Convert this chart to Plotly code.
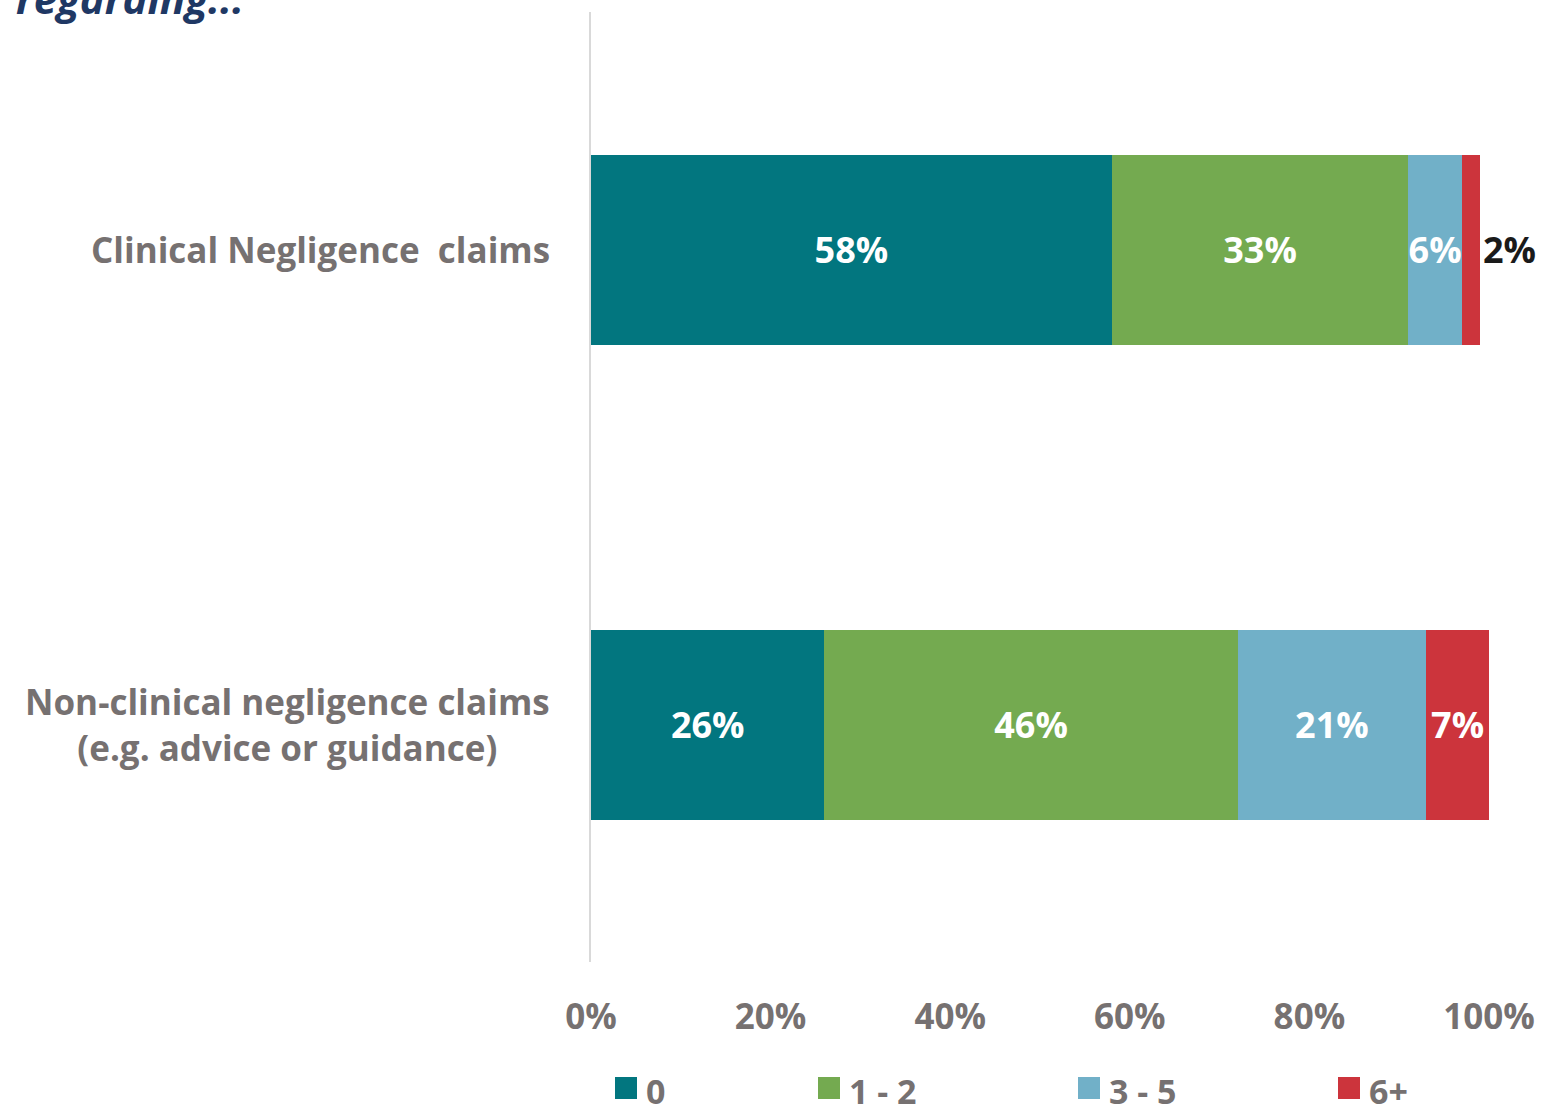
import plotly.graph_objects as go

categories = ["Clinical Negligence\u00a0 claims", "Non-clinical negligence claims<br>(e.g. advice or guidance)"]
series_names = ["0", "1 - 2", "3 - 5", "6+"]
series_values = {
    "0": [58, 26],
    "1 - 2": [33, 46],
    "3 - 5": [6, 21],
    "6+": [2, 7],
}
series_colors = ["#02767F", "#74AA50", "#71B0C8", "#CC343C"]
x_ticks = [0, 20, 40, 60, 80, 100]
x_tick_labels = ["0%", "20%", "40%", "60%", "80%", "100%"]
title_text = "regarding..."

GRAY = "#767171"
FONT = "Open Sans"
PLOT_L, PLOT_W, PLOT_T, PLOT_H = 591, 898, 12, 950

fig = go.Figure()
for name, color in zip(series_names, series_colors):
    vals = series_values[name]
    if name == "6+":
        tpos = ["outside", "inside"]
        tcol = ["#1A1A1A", "white"]
    else:
        tpos = "inside"
        tcol = "white"
    fig.add_trace(go.Bar(
        y=categories, x=vals, name=name, orientation="h",
        marker=dict(color=color, line=dict(width=0)),
        width=0.4,
        text=[f"{v}%" for v in vals],
        textposition=tpos,
        insidetextanchor="middle",
        textangle=0,
        textfont=dict(family=FONT, size=36, color=tcol, weight="bold"),
        cliponaxis=False,
        showlegend=False,
    ))

# category labels as centered annotations
for c in categories:
    fig.add_annotation(
        x=-0.0434, xref="paper", y=c, yref="y", text=c,
        xanchor="right", yanchor="middle", align="center", showarrow=False,
        font=dict(family=FONT, size=35, color=GRAY, weight="bold"),
    )

# custom legend (pixel positions of the swatches)
leg_px = [615, 818, 1078, 1338]
leg_y_px = 1091
sq = 22
for px, name, color in zip(leg_px, series_names, series_colors):
    x0 = (px - PLOT_L) / PLOT_W
    yc = (PLOT_T + PLOT_H - leg_y_px) / PLOT_H
    fig.add_shape(type="rect", xref="paper", yref="paper",
                  x0=x0, x1=x0 + sq / PLOT_W,
                  y0=yc - (sq / 2 - 3) / PLOT_H, y1=yc + (sq / 2 + 3) / PLOT_H,
                  fillcolor=color, line=dict(width=0))
    fig.add_annotation(x=x0 + (sq + 8) / PLOT_W, xref="paper", y=yc, yref="paper",
                       text=name, xanchor="left", yanchor="middle", showarrow=False,
                       borderpad=0,
                       font=dict(family=FONT, size=34, color=GRAY, weight="bold"))

# cut-off title
fig.add_annotation(x=-0.643, xref="paper", y=1.0, yref="paper", yshift=-16,
                   text=f"<i>{title_text}</i>", xanchor="left", yanchor="bottom",
                   showarrow=False,
                   font=dict(family=FONT, size=42, color="#1F3864", weight="bold"))

fig.update_layout(
    width=1546, height=1113,
    margin=dict(l=PLOT_L, r=1546 - PLOT_L - PLOT_W, t=PLOT_T, b=1113 - PLOT_T - PLOT_H),
    barmode="stack",
    plot_bgcolor="white", paper_bgcolor="white",
    uniformtext=dict(minsize=36, mode="show"),
    xaxis=dict(range=[0, 100], tickmode="array", tickvals=x_ticks, ticktext=x_tick_labels,
               showgrid=False, zeroline=False, showline=False, ticks="",
               ticklabelstandoff=31,
               tickfont=dict(family=FONT, size=35, color=GRAY, weight="bold")),
    yaxis=dict(autorange="reversed", showticklabels=False, showgrid=False,
               zeroline=False, showline=True, linecolor="#D9D9D9", linewidth=2,
               ticks=""),
)

fig.write_html("out.html", config={"displayModeBar": False},
               post_script="document.body.style.margin='0';")
